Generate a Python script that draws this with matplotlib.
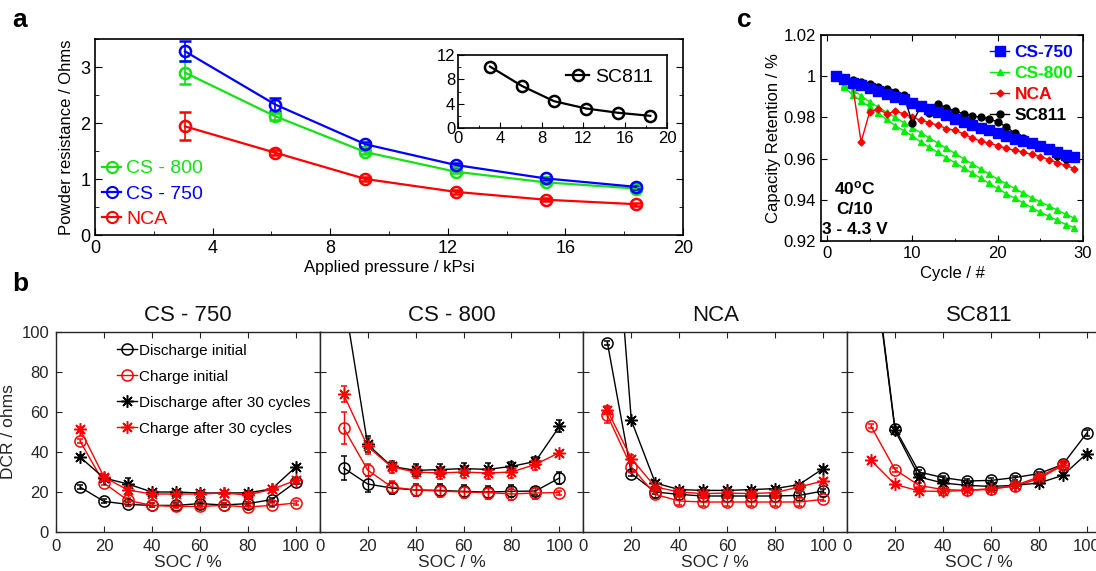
import numpy as np
import matplotlib
matplotlib.use("Agg")
import matplotlib.pyplot as plt
from matplotlib.lines import Line2D
from matplotlib.ticker import AutoMinorLocator, FuncFormatter

plt.rcParams['font.family'] = ['Liberation Sans', 'DejaVu Sans']
plt.rcParams['mathtext.default'] = 'regular'

# ---- panel a : powder resistance ----
pressure = [3.06, 6.13, 9.2, 12.27, 15.33, 18.4]
cs750_res = [3.28, 2.33, 1.62, 1.25, 1.01, 0.86]
cs750_err = [0.18, 0.12, 0.04, 0.04, 0.03, 0.03]
cs800_res = [2.90, 2.12, 1.48, 1.13, 0.94, 0.83]
cs800_err = [0.20, 0.06, 0.03, 0.03, 0.03, 0.03]
nca_res = [1.94, 1.47, 1.00, 0.77, 0.63, 0.55]
nca_err = [0.25, 0.04, 0.03, 0.03, 0.03, 0.03]
sc811_res = [10.1, 6.9, 4.4, 3.2, 2.5, 2.0]

# ---- panel c : capacity retention ----
cycles = list(range(1, 30))
ret_cs750 = [1.0, 0.9984, 0.9969, 0.9955, 0.9943, 0.9929, 0.9916, 0.990, 0.9887, 0.987,
             0.9854, 0.9841, 0.9828, 0.981, 0.9793, 0.978, 0.9763, 0.975, 0.9737, 0.9724,
             0.9708, 0.9695, 0.9686, 0.9676, 0.966, 0.9647, 0.963, 0.9618, 0.961]
ret_cs800_a = [1.0, 0.9955, 0.9935, 0.9905, 0.9875, 0.985, 0.9825, 0.980, 0.9775, 0.975,
               0.9725, 0.970, 0.9675, 0.965, 0.9625, 0.960, 0.9575, 0.955, 0.9525, 0.950,
               0.9478, 0.9455, 0.9432, 0.941, 0.939, 0.937, 0.935, 0.933, 0.931]
ret_cs800_b = [1.0, 0.995, 0.991, 0.988, 0.985, 0.982, 0.979, 0.976, 0.9735, 0.971,
               0.968, 0.9655, 0.963, 0.9605, 0.958, 0.9555, 0.953, 0.9505, 0.948, 0.9455,
               0.943, 0.9408, 0.9385, 0.9362, 0.934, 0.932, 0.930, 0.928, 0.9265]
ret_nca = [1.0, 0.998, 0.9956, 0.968, 0.9827, 0.984, 0.9818, 0.983, 0.9818, 0.980,
           0.9786, 0.9775, 0.9762, 0.9746, 0.9737, 0.9721, 0.970, 0.9685, 0.9675, 0.9663,
           0.965, 0.964, 0.9632, 0.962, 0.961, 0.9595, 0.958, 0.9567, 0.955]
ret_sc811 = [1.0, 0.9985, 0.998, 0.9972, 0.996, 0.995, 0.9937, 0.9922, 0.9908, 0.9773,
             0.9854, 0.9822, 0.9864, 0.9848, 0.9831, 0.9818, 0.9806, 0.9802, 0.9793, 0.9778,
             0.9754, 0.9724, 0.970, 0.968, 0.966, 0.9643, 0.9613, 0.960]

# ---- panel b : DCR vs SOC ----
soc = [10, 20, 30, 40, 50, 60, 70, 80, 90, 100]
dcr_titles = ['CS - 750', 'CS - 800', 'NCA', 'SC811']
dis_init = [
    [22.5, 15.3, 13.8, 13.3, 13.3, 14.2, 13.5, 14.2, 16.2, 25.0],
    [32.0, 24.0, 22.0, 21.0, 20.8, 20.3, 20.0, 20.3, 20.5, 27.0],
    [94.7, 29.2, 20.0, 18.8, 18.0, 18.0, 18.0, 18.0, 18.3, 20.5],
    [147.0, 51.7, 30.0, 27.2, 25.5, 25.8, 27.2, 29.2, 33.8, 49.5],
]
chg_init = [
    [45.5, 24.5, 15.8, 13.3, 12.8, 12.8, 13.3, 12.5, 13.3, 14.5],
    [52.0, 31.0, 22.5, 21.0, 20.5, 20.0, 19.7, 19.0, 19.5, 19.7],
    [58.3, 32.5, 18.8, 15.5, 15.0, 15.0, 15.0, 15.0, 15.0, 16.3],
    [52.8, 31.2, 23.3, 21.2, 20.8, 21.7, 22.8, 26.7, 33.3, np.nan],
]
dis_30 = [
    [37.5, 27.0, 24.0, 20.0, 20.0, 19.5, 19.5, 19.6, 21.5, 32.5],
    [118.0, 43.8, 32.8, 30.8, 31.2, 31.7, 31.3, 32.8, 35.3, 52.8],
    [210.0, 55.8, 24.5, 21.2, 20.8, 20.8, 21.2, 21.7, 23.7, 31.7],
    [145.0, 50.8, 27.5, 24.5, 23.3, 22.8, 23.3, 24.5, 28.3, 39.2],
]
chg_30 = [
    [51.5, 27.5, 21.0, 19.0, 19.0, 19.0, 19.5, 18.5, 21.3, 25.8],
    [68.8, 42.8, 32.5, 30.0, 29.5, 30.0, 29.5, 30.0, 33.8, 39.7],
    [60.8, 36.7, 22.5, 20.0, 19.2, 19.5, 19.2, 19.7, 22.5, 25.5],
    [35.8, 23.8, 20.5, 20.3, 20.8, 21.3, 23.3, 27.5, 33.7, np.nan],
]
err_dis_init = [
    [1, 1, 1, 1, 1, 1, 1, 1, 1, 1],
    [6, 4, 3, 3, 3, 3, 3, 3, 2, 3],
    [1, 1, 1, 1, 1, 1, 1, 1, 1, 1],
    [1, 1, 1, 1, 1, 1, 1, 1, 1, 1.5],
]
err_chg_init = [
    [1, 1, 1, 1, 1, 1, 1, 1, 1, 1],
    [8, 3, 3, 3, 3, 3, 3, 3, 3, 1],
    [4, 2, 2, 2, 2, 2, 2, 2, 2, 1],
    [1, 1, 1, 1, 1, 1, 1, 1, 1, 1],
]
err_dis_30 = [
    [1, 1, 3, 1, 1, 1, 1, 1, 1, 1],
    [0, 4, 2, 3, 3, 3, 3, 2, 2, 3],
    [0, 1, 1, 1, 1, 1, 1, 1, 1, 1],
    [0, 1, 1, 1, 1, 1, 1, 1, 1, 1],
]
err_chg_30 = [
    [1, 1, 2, 1, 1, 1, 1, 1, 1, 1],
    [4, 4, 3, 3, 3, 3, 3, 3, 3, 1],
    [2, 2, 2, 2, 2, 2, 2, 2, 2, 1],
    [1, 1, 1, 1, 1, 1, 1, 1, 1, 1],
]

W, H = 1096, 571
fig = plt.figure(figsize=(W / 100, H / 100), dpi=100)


def box(l, t, r, b):
    return [l / W, 1 - b / H, (r - l) / W, (b - t) / H]


blue, green, red = '#0000ff', '#16e016', '#ff0000'
star = (8, 2, 0)  # asterisk like matlab '*'

# ================= panel a =================
ax = fig.add_axes(box(95, 39, 683, 235))
handles_a = []
for y, e, c, lab in [(cs800_res, cs800_err, green, 'CS - 800'),
                     (cs750_res, cs750_err, blue, 'CS - 750'),
                     (nca_res, nca_err, red, 'NCA')]:
    ax.errorbar(pressure, y, yerr=e, color=c, lw=1.6, marker='o', ms=8,
                mfc='none', mec=c, mew=1.8, capsize=4, elinewidth=1.2,
                ecolor=c)
    handles_a.append(Line2D([], [], color=c, lw=1.6, marker='o', ms=8,
                            mfc='none', mew=1.5, label=lab))
ax.set_xlim(0, 20)
ax.set_ylim(0, 3.5)
ax.set_xticks([0, 4, 8, 12, 16, 20])
ax.set_yticks([0, 1, 2, 3])
ax.xaxis.set_minor_locator(AutoMinorLocator(2))
ax.yaxis.set_minor_locator(AutoMinorLocator(2))
ax.tick_params(which='both', direction='in', right=True, labelsize=13)
ax.tick_params(which='major', length=5)
ax.tick_params(which='minor', length=3)
ax.set_xlabel('Applied pressure / kPsi', fontsize=12, labelpad=2)
ax.set_ylabel('Powder resistance / Ohms', fontsize=12, labelpad=4)
leg = ax.legend(handles=handles_a, loc='lower left', frameon=False, fontsize=14,
                handlelength=1.0, handletextpad=0.25, borderaxespad=0.25,
                borderpad=0.1, labelspacing=0.4)
for t, c in zip(leg.get_texts(), [green, blue, red]):
    t.set_color(c)
for s in ax.spines.values():
    s.set_linewidth(1.2)

ins = fig.add_axes(box(458, 55, 667, 128))
ins.plot(pressure, sc811_res, color='black', lw=1.6, marker='o', ms=8,
         mfc='none', mew=1.8, label='SC811')
ins.set_xlim(0, 20)
ins.set_ylim(0, 12)
ins.set_xticks([0, 4, 8, 12, 16, 20])
ins.set_yticks([0, 4, 8, 12])
ins.xaxis.set_minor_locator(AutoMinorLocator(2))
ins.yaxis.set_minor_locator(AutoMinorLocator(2))
ins.tick_params(which='both', direction='in', labelsize=12, pad=2)
ins.tick_params(which='major', length=4)
ins.tick_params(which='minor', length=2)
ins.legend(loc='upper right', frameon=False, fontsize=14, handlelength=1.2,
           handletextpad=0.3, borderaxespad=0.3)
for s in ins.spines.values():
    s.set_linewidth(1.2)

# ================= panel c =================
axc = fig.add_axes(box(821, 35, 1083, 241))
axc.plot(cycles, ret_cs800_b, color='#00ee00', lw=1, marker='^', ms=5,
         label='_nolegend_')
axc.plot(cycles, ret_cs800_a, color='#00ee00', lw=1, marker='^', ms=5,
         label='CS-800')
axc.plot(cycles, ret_nca, color=red, lw=1, marker='D', ms=3.5, label='NCA')
axc.plot(cycles[:len(ret_sc811)], ret_sc811, color='black', lw=1, marker='o',
         ms=5, label='SC811')
axc.plot(cycles, ret_cs750, color=blue, lw=1, marker='s', ms=6.5, label='CS-750')
axc.set_xlim(-0.7, 29.8)
axc.set_ylim(0.92, 1.02)
axc.set_xticks([0, 10, 20, 30])
axc.set_yticks([0.92, 0.94, 0.96, 0.98, 1.0, 1.02])
axc.yaxis.set_major_formatter(FuncFormatter(lambda v, p: '%g' % round(v, 2)))
axc.xaxis.set_minor_locator(AutoMinorLocator(2))
axc.tick_params(which='both', direction='in', top=True, right=True, labelsize=12)
axc.tick_params(which='major', length=4)
axc.tick_params(which='minor', length=2)
axc.set_xlabel('Cycle / #', fontsize=12)
axc.set_ylabel('Capacity Retention / %', fontsize=12, labelpad=2)
h, l = axc.get_legend_handles_labels()
order = [3, 0, 1, 2]
legc = axc.legend([h[i] for i in order], [l[i] for i in order], loc='upper right',
                  bbox_to_anchor=(1.0, 1.0), frameon=False, handlelength=1.1,
                  handletextpad=0.3, borderaxespad=0.15, labelspacing=0.35,
                  prop={'size': 12.5, 'weight': 'bold'})
for t, c in zip(legc.get_texts(), [blue, '#00ee00', red, 'black']):
    t.set_color(c)
axc.text(0.13, 0.02, '40$^{o}$C\nC/10\n3 - 4.3 V', transform=axc.transAxes,
         ha='center', va='bottom', fontsize=12.5, fontweight='bold',
         linespacing=1.4)
for s in axc.spines.values():
    s.set_linewidth(1.2)

# ================= panel b =================
grey = '#262626'
pw = 263.7
styles_b = [('black', 'o', 'Discharge initial'),
            (red, 'o', 'Charge initial'),
            ('black', star, 'Discharge after 30 cycles'),
            (red, star, 'Charge after 30 cycles')]
for i in range(4):
    l = 56 + i * pw
    axb = fig.add_axes(box(l, 332, l + pw, 532))
    series = [(dis_init[i], err_dis_init[i]), (chg_init[i], err_chg_init[i]),
              (dis_30[i], err_dis_30[i]), (chg_30[i], err_chg_30[i])]
    for (y, e), (c, m, lab) in zip(series, styles_b):
        ms = 8 if m == 'o' else 9
        axb.errorbar(soc, y, yerr=e, color=c, lw=1, marker=m, ms=ms,
                     mfc='none', mec=c, mew=1.1, capsize=2, elinewidth=1)
    axb.set_xlim(0, 110)
    axb.set_ylim(0, 100)
    axb.set_xticks([0, 20, 40, 60, 80, 100])
    axb.set_yticks([0, 20, 40, 60, 80, 100])
    axb.tick_params(direction='in', top=True, right=True, length=4,
                    labelsize=12, colors=grey, labelcolor=grey, pad=5)
    if i > 0:
        axb.tick_params(labelleft=False)
    else:
        axb.set_ylabel('DCR / ohms', fontsize=12.5, color=grey, labelpad=4)
    axb.set_xlabel('SOC / %', fontsize=12.5, color=grey, labelpad=1)
    axb.set_title(dcr_titles[i], fontsize=16, color='#111111', pad=8)
    for s in axb.spines.values():
        s.set_color(grey)
        s.set_linewidth(1)
    if i == 0:
        hb = [Line2D([], [], color=c, lw=1, marker=m, ms=8 if m == 'o' else 9,
                     mfc='none', mec=c, mew=1.1, label=lab)
              for c, m, lab in styles_b]
        axb.legend(handles=hb, loc='upper left', bbox_to_anchor=(0.18, 1.01),
                   frameon=False, fontsize=11, handlelength=1.3,
                   handletextpad=0.1, labelspacing=0.78)

# panel letters
fig.text(12 / W, 1 - 20 / H, 'a', fontsize=19, fontweight='bold', va='center')
fig.text(12 / W, 1 - 284 / H, 'b', fontsize=19, fontweight='bold', va='center')
fig.text(737 / W, 1 - 20 / H, 'c', fontsize=19, fontweight='bold', va='center')

fig.savefig('out.png', dpi=100)
